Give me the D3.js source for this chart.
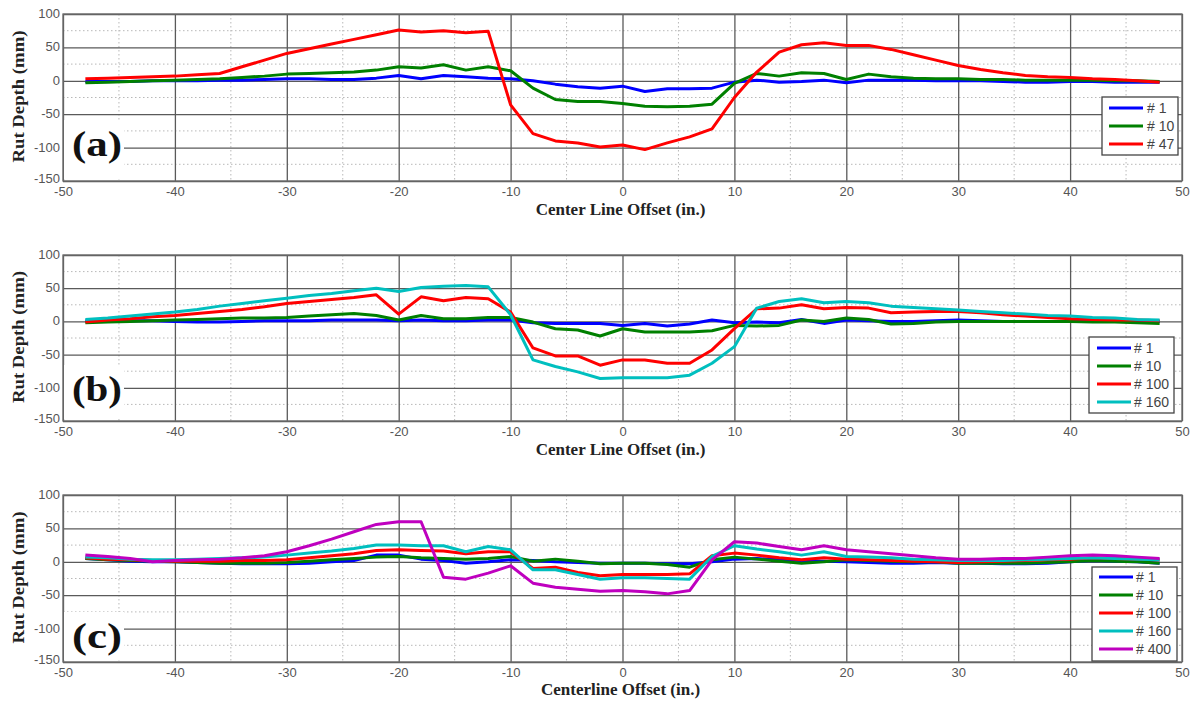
<!DOCTYPE html>
<html><head><meta charset="utf-8">
<script src="https://cdn.jsdelivr.net/npm/d3@7"></script>
<style>html,body{margin:0;padding:0;background:#fff;}</style>
</head><body>
<svg id="chart" width="1196" height="702"></svg>
<script>
// ---------- DATA ----------
const offsets = [-48,-46,-44,-42,-40,-38,-36,-34,-32,-30,-28,-26,-24,-22,-20,-18,-16,-14,-12,-10,-8,-6,-4,-2,0,2,4,6,8,10,12,14,16,18,20,22,24,26,28,30,32,34,36,38,40,42,44,46,48];
const xTicks = [-50,-40,-30,-20,-10,0,10,20,30,40,50];
const yTicks = [100,50,0,-50,-100,-150];

// Panel (a)
const a_pass1  = [-1,-1,-1,0,0,0,1,1,2,3, 3,2,2,4,8,3,8,6,4,3, 0,-5,-9,-11,-8,-16,-12,-12,-11,-2, 1,-2,-1,1,-3,1,1,1,0,0, 0,-1,-2,-2,-1,-1,-2,-2,-2];
const a_pass10 = [-3,-2,-1,0,1,2,3,5,7,10, 11,12,13,16,21,19,24,16,21,15, -11,-28,-31,-31,-34,-38,-39,-38,-35,-4, 11,7,12,11,2,10,6,4,3,3, 2,2,1,1,1,1,0,0,-1];
const a_pass47 = [3,4,5,6,7,9,11,21,31,41, 48,55,62,69,76,73,75,72,74,-36, -79,-90,-93,-99,-96,-103,-93,-84,-72,-25, 13,43,54,57,53,53,47,39,31,23, 17,12,8,6,5,3,2,0,-2];

// Panel (b)
const b_pass1   = [1,1,1,1,0,-1,-1,0,1,1, 1,2,2,2,1,2,1,1,2,2, -2,-3,-3,-3,-6,-3,-7,-4,2,-2, -1,-2,3,-3,2,1,0,0,1,2, 1,0,0,0,0,0,0,0,0];
const b_pass10  = [-2,-1,0,1,2,3,4,5,5,6, 8,10,12,9,2,9,4,4,6,6, -1,-11,-13,-22,-11,-16,-16,-16,-14,-6, -7,-6,2,0,5,3,-4,-3,-1,0, 0,0,0,0,0,-1,-1,-2,-3];
const b_pass100 = [-1,2,4,7,9,12,15,18,22,27, 30,33,36,40,11,37,31,36,34,14, -40,-52,-52,-66,-58,-58,-63,-63,-43,-11, 19,20,25,19,21,20,13,14,15,15, 13,10,8,6,4,3,2,2,1];
const b_pass160 = [3,5,8,11,14,18,23,27,31,35, 39,42,46,50,45,51,53,54,52,10, -58,-68,-76,-86,-85,-85,-85,-81,-63,-38, 20,30,34,28,30,28,23,21,19,17, 15,13,11,9,8,6,5,3,2];

// Panel (c)
const c_pass1   = [5,3,1,0,0,-1,-2,-3,-3,-3, -2,0,2,10,10,4,2,-2,0,3, 2,0,-1,-2,-2,-2,-3,-3,0,4, 5,3,2,1,0,-1,-2,-2,-1,-2, -2,-3,-3,-2,0,2,1,0,-2];
const c_pass10  = [5,3,2,1,0,-1,-2,-2,-2,-1, 1,3,5,7,8,6,5,4,5,8, 1,4,1,-3,-2,-2,-4,-8,3,7, 4,1,-2,0,3,2,1,0,0,-2, -2,-2,-2,-1,0,2,1,0,-2];
const c_pass100 = [6,4,3,2,1,1,1,2,2,3, 6,9,12,17,18,17,16,12,15,15, -10,-8,-16,-21,-19,-19,-19,-18,9,13, 10,6,3,6,4,3,2,1,0,-1, 0,1,2,3,4,6,5,4,3];
const c_pass160 = [7,6,4,3,3,4,5,6,7,10, 13,16,20,25,25,24,24,15,23,18, -12,-12,-19,-26,-24,-24,-25,-26,8,24, 19,15,10,15,8,7,6,4,3,2, 2,2,3,4,5,6,5,4,3];
const c_pass400 = [10,8,5,0,2,3,4,6,9,15, 24,34,45,56,60,60,-23,-26,-17,-6, -32,-38,-41,-44,-43,-45,-48,-43,3,30, 28,23,18,24,18,15,12,9,6,4, 4,5,5,7,9,10,9,7,5];

const seriesColors = {"# 1":"#0000ff","# 10":"#008000","# 100":"#ff0000","# 47":"#ff0000","# 160":"#00bfbf","# 400":"#bf00bf"};

const panels = [
  {tag:"(a)", xLabel:"Center Line Offset (in.)", top:14, bottom:181, labelBase:156, xLabelY:215,
   legend:{x:1102,y:97,w:76,h:58,rowY:[108,126,144],lx1:1109,lx2:1143,tx:1147},
   series:[["# 1",a_pass1],["# 10",a_pass10],["# 47",a_pass47]]},
  {tag:"(b)", xLabel:"Center Line Offset (in.)", top:255, bottom:421, labelBase:401, xLabelY:455,
   legend:{x:1089,y:337,w:85,h:76,rowY:[348,366,384,402],lx1:1097,lx2:1131,tx:1134},
   series:[["# 1",b_pass1],["# 10",b_pass10],["# 100",b_pass100],["# 160",b_pass160]]},
  {tag:"(c)", xLabel:"Centerline Offset (in.)", top:495, bottom:662, labelBase:648, xLabelY:695,
   legend:{x:1092,y:567,w:85,h:94,rowY:[577,595,613,631,649],lx1:1099,lx2:1133,tx:1136},
   series:[["# 1",c_pass1],["# 10",c_pass10],["# 100",c_pass100],["# 160",c_pass160],["# 400",c_pass400]]}
];

const svg = d3.select("#chart");
const left = 63, right = 1182;
const x = d3.scaleLinear().domain([-50,50]).range([left,right]);
const minorX = d3.range(-45,50,10);
const minorY = [75,25,-25,-75,-125];

panels.forEach(p => {
  const y = d3.scaleLinear().domain([-150,100]).range([p.bottom,p.top]);
  const g = svg.append("g");

  // minor dotted grid
  g.selectAll(".mx").data(minorX).enter().append("line")
    .attr("x1",d=>x(d)).attr("x2",d=>x(d)).attr("y1",p.top).attr("y2",p.bottom)
    .attr("stroke","#b8b8b8").attr("stroke-width",1).attr("stroke-dasharray","1.5,2.5");
  g.selectAll(".my").data(minorY).enter().append("line")
    .attr("x1",left).attr("x2",right).attr("y1",d=>y(d)).attr("y2",d=>y(d))
    .attr("stroke","#b8b8b8").attr("stroke-width",1).attr("stroke-dasharray","1.5,2.5");

  // major grid via axes
  const gx = g.append("g").attr("transform",`translate(0,${p.bottom})`)
    .call(d3.axisBottom(x).tickValues(xTicks).tickSize(-(p.bottom-p.top)).tickFormat(d3.format("d")));
  const gy = g.append("g").attr("transform",`translate(${left},0)`)
    .call(d3.axisLeft(y).tickValues(yTicks).tickSize(-(right-left)).tickFormat(d3.format("d")));
  [gx,gy].forEach(ax=>{
    ax.select(".domain").remove();
    ax.selectAll(".tick line").attr("stroke","#5a5a5a").attr("stroke-width",1.3);
    ax.selectAll(".tick text").attr("fill","#555").attr("font-family","Liberation Sans, Arial, sans-serif").attr("font-size",13);
  });
  gx.selectAll(".tick text").attr("dy",null).attr("y",12).attr("dominant-baseline","middle")
    .text(d=> d<0 ? "-"+Math.abs(d) : d);
  gy.selectAll(".tick text").attr("x",-3).attr("dy",null).attr("dominant-baseline","middle")
    .text(d=> d<0 ? "-"+Math.abs(d) : d);
  // lift the bottom y label slightly so it sits above the x corner label as in the reference
  gy.selectAll(".tick text").filter(d=>d===-150).attr("dy",-2);

  // frame
  g.append("rect").attr("x",left).attr("y",p.top).attr("width",right-left).attr("height",p.bottom-p.top)
    .attr("fill","none").attr("stroke","#6a6a6a").attr("stroke-width",1.3);

  // panel tag with white background
  g.append("rect").attr("x",left+1).attr("y",p.labelBase-36).attr("width",60).attr("height",p.bottom-(p.labelBase-36)-2)
    .attr("fill","#fff");
  g.append("text").attr("x",72).attr("y",p.labelBase).text(p.tag)
    .attr("font-family","Liberation Serif, DejaVu Serif, serif").attr("font-weight","bold")
    .attr("font-size",36).attr("fill","#111").attr("textLength",50).attr("lengthAdjust","spacingAndGlyphs");

  // lines
  const line = d3.line().x((d,i)=>x(offsets[i])).y(d=>y(d));
  p.series.forEach(([name,vals])=>{
    g.append("path").datum(vals).attr("d",line).attr("fill","none")
      .attr("stroke",seriesColors[name]).attr("stroke-width",3).attr("stroke-linejoin","round");
  });

  // axis labels
  g.append("text").attr("x",(left+right)/2 - 2).attr("y",p.xLabelY).attr("text-anchor","middle")
    .attr("font-family","Liberation Serif, DejaVu Serif, serif").attr("font-weight","bold").attr("font-size",17)
    .attr("fill","#222").text(p.xLabel);
  const cy = (p.top+p.bottom)/2 - 1;
  g.append("text").attr("transform",`translate(24,${cy}) rotate(-90)`).attr("text-anchor","middle")
    .attr("font-family","Liberation Serif, DejaVu Serif, serif").attr("font-weight","bold").attr("font-size",17)
    .attr("fill","#222").attr("textLength",132).attr("lengthAdjust","spacingAndGlyphs").text("Rut Depth (mm)");

  // legend
  const L = p.legend;
  g.append("rect").attr("x",L.x).attr("y",L.y).attr("width",L.w).attr("height",L.h)
    .attr("fill","#fff").attr("stroke","#444").attr("stroke-width",1.3);
  p.series.forEach(([name],i)=>{
    g.append("line").attr("x1",L.lx1).attr("x2",L.lx2).attr("y1",L.rowY[i]).attr("y2",L.rowY[i])
      .attr("stroke",seriesColors[name]).attr("stroke-width",3);
    g.append("text").attr("x",L.tx).attr("y",L.rowY[i]).attr("dy","0.35em")
      .attr("font-family","Liberation Sans, Arial, sans-serif").attr("font-size",14).attr("fill","#444").text(name);
  });
});
</script>
</body></html>
